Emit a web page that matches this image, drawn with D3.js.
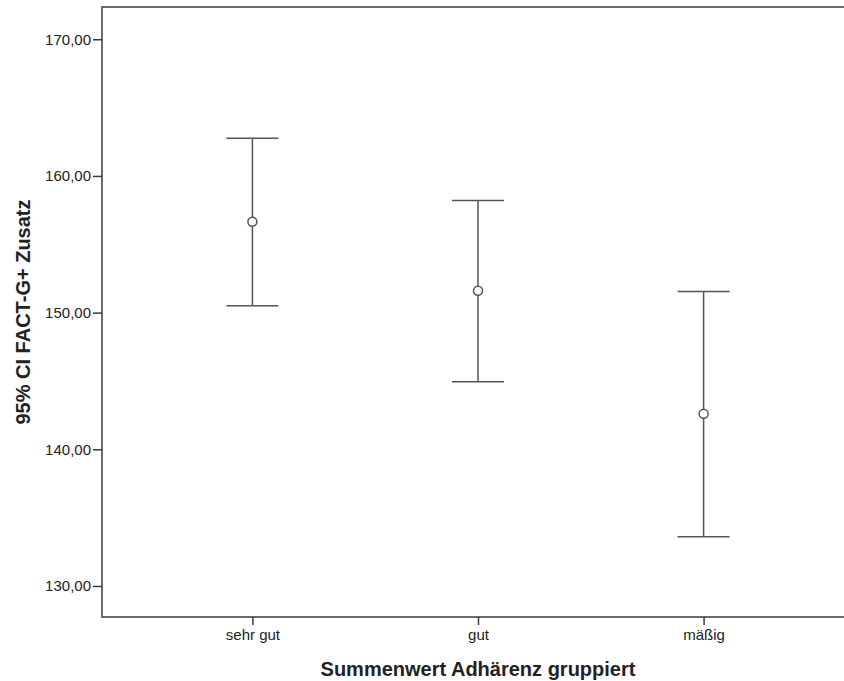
<!DOCTYPE html>
<html>
<head>
<meta charset="utf-8">
<script src="https://cdn.jsdelivr.net/npm/d3@7"></script>
<style>
  body { margin: 0; background: #fff; }
  text { font-family: "Liberation Sans", Arial, sans-serif; fill: #222; }
</style>
</head>
<body>
<div id="chart"></div>
<script>
// groups and their 95% CI (lower, mean, upper)
const groups = ["sehr gut", "gut", "mäßig"];
const means = [156.65, 151.6, 142.6];
const lowers = [150.5, 144.95, 133.6];
const uppers = [162.75, 158.2, 151.55];
const yTicks = [130, 140, 150, 160, 170];

const data = groups.map((g, i) => ({group: g, mean: means[i], lo: lowers[i], hi: uppers[i]}));

const W = 844, H = 681;
const margin = {top: 7, right: -10, bottom: 64, left: 102};
const width = W - margin.left - margin.right,
      height = H - margin.top - margin.bottom;

const svg = d3.select("#chart").append("svg")
    .attr("width", W)
    .attr("height", H)
  .append("g")
    .attr("transform", `translate(${margin.left},${margin.top})`);

const x = d3.scalePoint()
    .domain(groups)
    .range([0, width])
    .padding(2 / 3);

const y = d3.scaleLinear()
    .domain([127.73, 172.36])
    .range([height, 0]);

// frame
svg.append("rect")
    .attr("width", width)
    .attr("height", height)
    .attr("fill", "none")
    .attr("stroke", "#3a3a3a")
    .attr("stroke-width", 1.5);

// Y axis
const yAxis = svg.append("g")
    .call(d3.axisLeft(y).tickValues(yTicks).tickSize(9).tickPadding(2)
        .tickFormat(d => d3.format(".2f")(d).replace(".", ",")));
yAxis.select(".domain").remove();
yAxis.selectAll("line").attr("stroke", "#3a3a3a").attr("stroke-width", 1.5);
yAxis.selectAll("text").style("font-size", "15px").attr("fill", "#222");

// X axis
const xAxis = svg.append("g")
    .attr("transform", `translate(0,${height})`)
    .call(d3.axisBottom(x).tickSize(8).tickPadding(4));
xAxis.select(".domain").remove();
xAxis.selectAll("line").attr("stroke", "#3a3a3a").attr("stroke-width", 1.5);
xAxis.selectAll("text").style("font-size", "15px").attr("fill", "#222");

// error bars
const bars = svg.selectAll(".ci")
    .data(data)
    .enter()
    .append("g")
    .attr("class", "ci")
    .attr("stroke", "#555")
    .attr("stroke-width", 1.5)
    .attr("fill", "none");

bars.append("line")
    .attr("x1", d => x(d.group)).attr("x2", d => x(d.group))
    .attr("y1", d => y(d.hi)).attr("y2", d => y(d.lo));

bars.append("line")
    .attr("x1", d => x(d.group) - 26).attr("x2", d => x(d.group) + 26)
    .attr("y1", d => y(d.hi)).attr("y2", d => y(d.hi));

bars.append("line")
    .attr("x1", d => x(d.group) - 26).attr("x2", d => x(d.group) + 26)
    .attr("y1", d => y(d.lo)).attr("y2", d => y(d.lo));

bars.append("circle")
    .attr("cx", d => x(d.group))
    .attr("cy", d => y(d.mean))
    .attr("r", 4.5)
    .attr("fill", "#fff");

// axis titles
svg.append("text")
    .attr("x", x("gut"))
    .attr("y", height + 59)
    .attr("text-anchor", "middle")
    .style("font-size", "20px")
    .style("font-weight", "bold")
    .text("Summenwert Adhärenz gruppiert");

svg.append("text")
    .attr("transform", `translate(${-72},${height / 2}) rotate(-90)`)
    .attr("text-anchor", "middle")
    .style("font-size", "20px")
    .style("font-weight", "bold")
    .text("95% CI FACT-G+ Zusatz");
</script>
</body>
</html>
